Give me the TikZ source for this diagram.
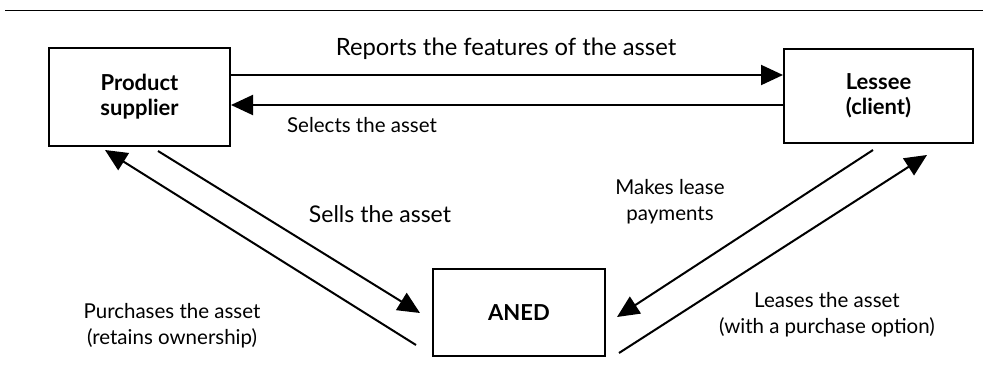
\documentclass[tikz,border=0pt]{standalone}
\usepackage{fontspec}
\setmainfont{Lato}
\usetikzlibrary{arrows.meta,calc}
\begin{document}
\begin{tikzpicture}[x=1pt,y=-1pt,
  box/.style={draw,line width=2pt,align=center,inner sep=0pt,
    font=\bfseries\fontsize{22}{25}\selectfont},
  arr/.style={line width=2pt,-{Triangle[length=22pt,width=20pt]}},
  lab/.style={align=center,inner sep=0pt,font=\fontsize{20.5}{25.7}\selectfont},
  biglab/.style={align=center,inner sep=0pt,font=\fontsize{23}{27}\selectfont}]
\useasboundingbox (0,0) rectangle (983,367);
\draw[line width=1.5pt] (5,10.5) -- (983,10.5);
\node[box,minimum width=181pt,minimum height=98pt] (ps) at (139.5,97) {Product\\supplier};
\node[box,minimum width=189pt,minimum height=94pt] (le) at (878.5,96) {Lessee\\(client)};
\node[box,minimum width=172pt,minimum height=87pt] (an) at (519,312.5) {ANED};
\coordinate (ya) at (0,75);
\coordinate (yb) at (0,105);
\draw[arr] (ps.east |- ya) -- (le.west |- ya);
\draw[arr] (le.west |- yb) -- (ps.east |- yb);
\coordinate (s0) at ($(ps.south)+(18.5,4)$);
\coordinate (s1) at ($(an.west)+(-12,0.5)$);
\coordinate (p0) at ($(an.west)+(-16,32.5)$);
\coordinate (p1) at ($(ps.south)+(-34.5,3)$);
\coordinate (m0) at ($(le.south)+(-5.5,6)$);
\coordinate (m1) at ($(an.east)+(11,4.5)$);
\coordinate (l0) at ($(an.east)+(13,40.5)$);
\coordinate (l1) at ($(le.south)+(48.5,11)$);
\draw[arr] (s0) -- (s1);
\draw[arr] (p0) -- (p1);
\draw[arr] (m0) -- (m1);
\draw[arr] (l0) -- (l1);
\node[biglab,font=\fontsize{23.8}{27}\selectfont] (t1) at (506,48.5) {Reports the features of the asset};
\node[lab] (t2) at (362,125) {Selects the asset};
\node[biglab] (t3) at (380,214) {Sells the asset};
\node[lab] (t4) at (172,326) {Purchases the asset\\(retains ownership)};
\node[lab] (t5) at (670,202) {Makes lease\\payments};
\node[lab] (t6) at (827,314.5) {Leases the asset\\(with a purchase option)};
\end{tikzpicture}
\end{document}
